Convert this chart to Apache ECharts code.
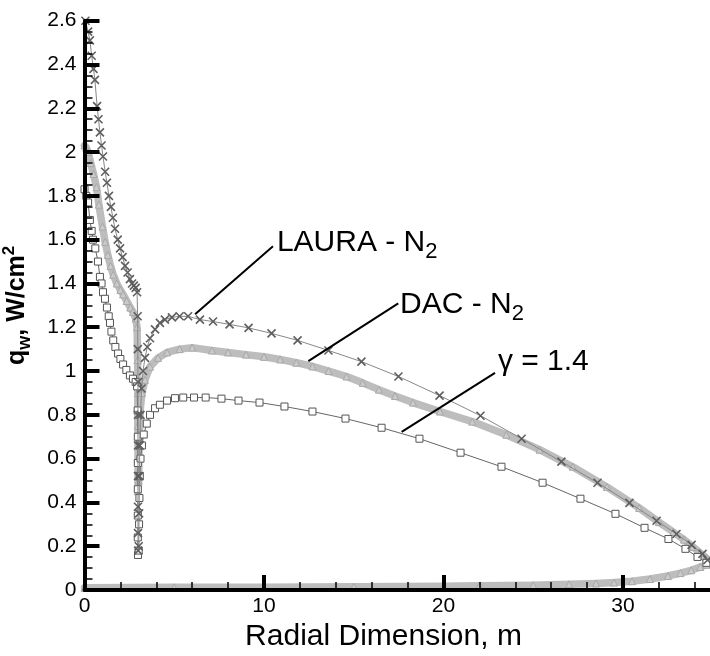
<!DOCTYPE html>
<html>
<head>
<meta charset="utf-8">
<script src="https://cdn.jsdelivr.net/npm/echarts@6/dist/echarts.min.js"></script>
<style>html,body{margin:0;padding:0;background:#fff}#c{width:710px;height:656px}</style>
</head>
<body>
<div id="c"></div>
<script>
// ---- data (x: radial dimension, m ; y: q_w, W/cm^2) ----
const LAURA_X = [0.05,0.2,0.3,0.4,0.5,0.58,0.7,0.78,0.86,0.95,1.03,1.15,1.25,1.36,1.47,1.58,1.7,1.85,1.98,2.12,2.26,2.4,2.53,2.65,2.75,2.85,2.93,2.96,2.97,2.98,2.98,2.98,2.98,2.98,2.98,2.99,3.02,3.04,3.06,3.08,3.12,3.18,3.26,3.37,3.5,3.65,3.93,4.2,4.48,4.87,5.3,5.77,6.43,7.16,8.08,9.14,10.42,11.87,13.59,15.43,17.49,19.78,22.06,24.35,26.57,28.58,30.36,31.87,32.98,33.82,34.43,34.71];
const LAURA_Y = [2.60,2.55,2.51,2.44,2.38,2.33,2.21,2.15,2.09,2.03,1.98,1.91,1.86,1.80,1.75,1.70,1.65,1.60,1.56,1.52,1.48,1.45,1.42,1.40,1.39,1.38,1.36,1.25,1.10,0.95,0.80,0.66,0.52,0.38,0.26,0.18,0.20,0.35,0.52,0.66,0.80,0.92,1.00,1.06,1.11,1.15,1.19,1.22,1.235,1.245,1.25,1.25,1.235,1.226,1.213,1.197,1.172,1.14,1.094,1.043,0.975,0.888,0.796,0.691,0.586,0.49,0.398,0.316,0.256,0.206,0.165,0.137];

const GAMMA_X = [0.0,0.1,0.2,0.3,0.4,0.47,0.6,0.75,0.86,0.95,1.03,1.14,1.25,1.35,1.42,1.5,1.6,1.72,1.87,2.0,2.15,2.33,2.53,2.7,2.85,2.93,2.96,2.97,2.97,2.97,2.97,2.97,2.98,3.02,3.04,3.06,3.08,3.12,3.2,3.3,3.47,3.65,3.93,4.2,4.6,5.04,5.5,6.1,6.75,7.63,8.58,9.75,11.14,12.7,14.54,16.55,18.66,20.95,23.23,25.52,27.63,29.58,31.2,32.53,33.48,34.15,34.65];
const GAMMA_Y = [1.83,1.80,1.77,1.69,1.64,1.60,1.56,1.50,1.43,1.40,1.36,1.33,1.29,1.25,1.22,1.18,1.14,1.11,1.08,1.055,1.03,1.005,0.98,0.965,0.95,0.93,0.82,0.70,0.58,0.46,0.34,0.24,0.16,0.18,0.30,0.42,0.52,0.60,0.66,0.71,0.76,0.80,0.83,0.846,0.865,0.876,0.879,0.879,0.879,0.874,0.865,0.856,0.838,0.815,0.783,0.741,0.691,0.627,0.563,0.49,0.417,0.348,0.284,0.233,0.188,0.151,0.124];

const DAC_X = [0,0.1,0.2,0.35,0.5,0.67,0.8,1.0,1.15,1.3,1.45,1.6,1.8,2.0,2.15,2.35,2.55,2.7,2.85,2.93,2.96,2.97,2.97,2.98,2.98,3.02,3.05,3.1,3.2,3.37,3.65,4.1,4.6,5.3,6.0,7.1,8.0,9.0,10.0,10.9,11.8,12.7,13.6,14.6,15.5,16.4,17.3,18.3,19.8,21.6,23.5,25.35,27.2,29.1,30.9,32.0,32.8,33.4,33.9,34.3,34.65,34.8,34.65,34.3,33.8,33.2,32.5,31.5,30.5,29.5,28.5,27,25,22,20,15,10,5,0];
const DAC_Y = [2.03,2.02,2.0,1.95,1.90,1.84,1.76,1.66,1.59,1.53,1.48,1.44,1.40,1.37,1.35,1.32,1.29,1.27,1.24,1.20,1.05,0.90,0.75,0.60,0.45,0.50,0.70,0.82,0.90,0.96,1.02,1.06,1.085,1.10,1.107,1.094,1.085,1.075,1.065,1.053,1.038,1.021,1.0,0.975,0.946,0.915,0.886,0.856,0.815,0.769,0.709,0.641,0.563,0.471,0.375,0.31,0.265,0.23,0.197,0.17,0.146,0.125,0.115,0.105,0.09,0.077,0.064,0.05,0.04,0.034,0.03,0.026,0.022,0.019,0.017,0.015,0.013,0.012,0.01];

// annotation texts and their anchors / leader lines (data coordinates)
const ANNOT_TEXT = ['LAURA - N{sub|2}', 'DAC - N{sub|2}', 'γ = 1.4'];
const ANNOT_POS = [[10.72, 1.584], [17.58, 1.304], [23.03, 1.043]];
const LEADERS = [[[10.50, 1.570], [6.16, 1.259]], [[17.48, 1.309], [12.47, 1.045]], [[22.87, 0.992], [17.67, 0.722]]];

const X_TICKS = {min: 0, max: 40, interval: 10};
const Y_TICKS = {min: 0, max: 2.6, interval: 0.2};

const pairs = (xs, ys) => xs.map((x, i) => [x, ys[i]]);
const FONT = 'Liberation Sans, Arial, sans-serif';

const chart = echarts.init(document.getElementById('c'));
chart.setOption({
  animation: false,
  backgroundColor: '#fff',
  grid: {left: 84.5, top: 20.7, width: 718, height: 569.3, outerBoundsMode: 'none'},
  xAxis: {
    type: 'value', min: X_TICKS.min, max: X_TICKS.max, interval: X_TICKS.interval, z: 5,
    axisLine: {show: true, onZero: false, lineStyle: {color: '#000', width: 4}},
    axisTick: {show: true, inside: true, length: 15, lineStyle: {color: '#000', width: 4}},
    minorTick: {show: true, splitNumber: 5, length: 8, lineStyle: {color: '#000', width: 1.5}},
    splitLine: {show: false},
    axisLabel: {fontSize: 21, color: '#000', fontFamily: FONT, margin: 6},
    name: 'Radial Dimension, m', nameLocation: 'middle', nameGap: 32,
    nameTextStyle: {fontSize: 30, color: '#000', fontFamily: FONT, padding: [0, 120, 0, 0]}
  },
  yAxis: {
    type: 'value', min: Y_TICKS.min, max: Y_TICKS.max, interval: Y_TICKS.interval, z: 5,
    axisLine: {show: true, onZero: false, lineStyle: {color: '#000', width: 4}},
    axisTick: {show: true, inside: true, length: 15, lineStyle: {color: '#000', width: 4}},
    minorTick: {show: true, splitNumber: 4, length: 8, lineStyle: {color: '#000', width: 1.5}},
    splitLine: {show: false},
    axisLabel: {fontSize: 21, color: '#000', fontFamily: FONT, margin: 8},
    name: '{b|q}{sub|w}{b|, W/cm}{sup|2}', nameLocation: 'middle', nameGap: 50,
    nameTextStyle: {
      color: '#000', fontFamily: FONT, fontWeight: 'bold', fontSize: 25,
      rich: {
        b: {fontSize: 25, fontWeight: 'bold', fontFamily: FONT, color: '#000', lineHeight: 34, verticalAlign: 'middle'},
        sub: {fontSize: 18, fontWeight: 'bold', fontFamily: FONT, color: '#000', lineHeight: 18, verticalAlign: 'bottom'},
        sup: {fontSize: 17, fontWeight: 'bold', fontFamily: FONT, color: '#000', lineHeight: 18, verticalAlign: 'top'}
      }
    }
  },
  series: [
    {
      name: 'DAC - N2', type: 'line', data: pairs(DAC_X, DAC_Y), clip: false, z: 2,
      symbol: 'triangle', symbolSize: 7, showAllSymbol: true,
      lineStyle: {color: '#bdbdbd', width: 7.5, join: 'round', cap: 'round'},
      itemStyle: {color: '#cacaca', borderColor: '#a8a8a8', borderWidth: 1},
      emphasis: {disabled: true}
    },
    {
      name: 'γ = 1.4', type: 'line', data: pairs(GAMMA_X, GAMMA_Y), clip: false, z: 3,
      symbol: 'rect', symbolSize: 7, showAllSymbol: true,
      lineStyle: {color: '#666', width: 1},
      itemStyle: {color: '#fff', borderColor: '#555', borderWidth: 1},
      emphasis: {disabled: true}
    },
    {
      name: 'LAURA - N2', type: 'line', data: pairs(LAURA_X, LAURA_Y), clip: false, z: 4,
      symbol: 'path://M0,0L10,10M10,0L0,10', symbolSize: 8, showAllSymbol: true,
      lineStyle: {color: '#888', width: 1},
      itemStyle: {color: 'none', borderColor: '#5e5e5e', borderWidth: 1.6},
      emphasis: {disabled: true},
      markLine: {
        silent: true, symbol: ['none', 'none'], animation: false,
        lineStyle: {color: '#000', width: 2, type: 'solid'},
        label: {show: false},
        emphasis: {disabled: true},
        data: LEADERS.map(l => [{coord: l[0]}, {coord: l[1]}])
      },
      markPoint: {
        silent: true, symbol: 'circle', symbolSize: 0, animation: false,
        itemStyle: {color: 'transparent'},
        label: {
          show: true, position: 'right', distance: 0,
          color: '#000', fontFamily: FONT, fontSize: 30, lineHeight: 40,
          formatter: p => ANNOT_TEXT[p.dataIndex],
          rich: {
            sub: {fontSize: 22, fontFamily: FONT, color: '#000', lineHeight: 22, verticalAlign: 'bottom'}
          }
        },
        emphasis: {disabled: true},
        data: ANNOT_POS.map((c, i) => ({coord: c, value: i}))
      }
    }
  ]
});
</script>
</body>
</html>
